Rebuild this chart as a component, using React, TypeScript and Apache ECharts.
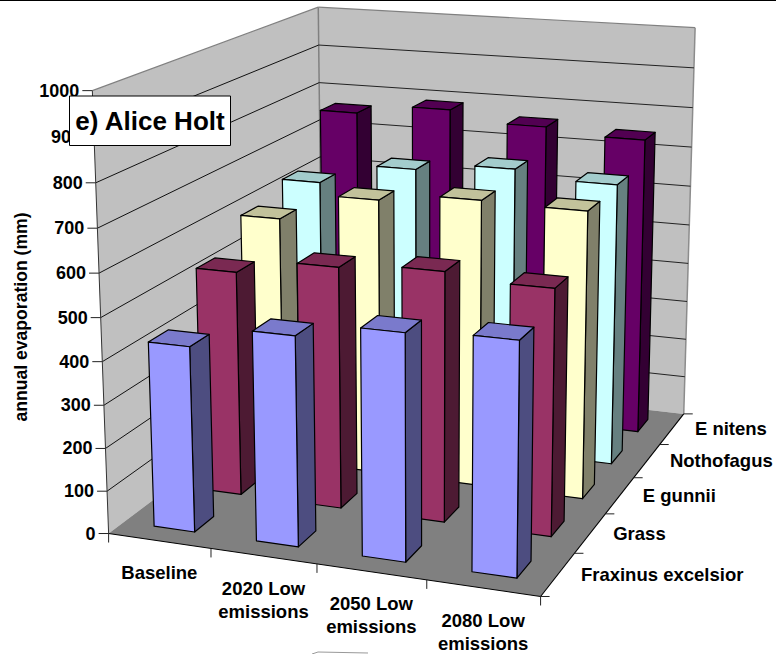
import React, { useEffect, useRef } from "react";
import * as echarts from "echarts";

const categories = ["Baseline", "2020 Low\nemissions", "2050 Low\nemissions", "2080 Low\nemissions"];
const seriesNames = ["Fraxinus excelsior", "Grass", "E gunnii", "Nothofagus", "E nitens"];
const valueTicks = [0, 100, 200, 300, 400, 500, 600, 700, 800, 900, 1000];

const fraxinus = [431, 482, 515, 525];
const grass = [535, 570, 584, 570];
const gunnii = [602, 668, 688, 684];
const nothofagus = [636, 688, 708, 690];
const nitens = [763, 788, 762, 747];
const rows = [fraxinus, grass, gunnii, nothofagus, nitens];

// front, side and top shades for each species
const palette = [
  ["#9999ff", "#4d4d80", "#7a7acc"],
  ["#993366", "#4d1a33", "#7a2952"],
  ["#ffffcc", "#80806a", "#c2c29b"],
  ["#ccffff", "#668080", "#a3cccc"],
  ["#660066", "#330033", "#520052"],
];

const MAX_VALUE = 1000;
const BAR_SHARE = 0.4;
const FONT = '"Liberation Sans", Arial, sans-serif';

// Box corners (u along categories, v along species, w up) and where the camera puts them.
const cameraAnchors: number[][] = [
  [0, 0, 0, 109, 534],
  [1, 0, 0, 540, 596],
  [1, 1, 0, 684, 414],
  [0, 1, 0, 322, 372],
  [0, 0, 1, 92, 90],
  [0, 1, 1, 318.5, 7.5],
  [1, 1, 1, 695, 27.7],
  [0, 0, 0.5, 101, 318],
  [0.5, 0, 0, 317, 564],
  [1, 0.6, 0, 634, 478],
];

function solve(a: number[][], b: number[]): number[] {
  const n = b.length;
  const m = a.map((row, i) => [...row, b[i]]);
  for (let c = 0; c < n; c++) {
    let p = c;
    for (let r = c + 1; r < n; r++) if (Math.abs(m[r][c]) > Math.abs(m[p][c])) p = r;
    [m[c], m[p]] = [m[p], m[c]];
    for (let r = 0; r < n; r++) {
      if (r === c) continue;
      const f = m[r][c] / m[c][c];
      for (let k = c; k <= n; k++) m[r][k] -= f * m[c][k];
    }
  }
  return m.map((row, i) => row[n] / row[i]);
}

// Least-squares fit of a 3x4 perspective camera with its last entry fixed at 1.
function fitCamera(anchors: number[][]): number[] {
  const rowsA: number[][] = [];
  const rowsB: number[] = [];
  for (const [u, v, w, sx, sy] of anchors) {
    rowsA.push([u, v, w, 1, 0, 0, 0, 0, -sx * u, -sx * v, -sx * w]);
    rowsB.push(sx);
    rowsA.push([0, 0, 0, 0, u, v, w, 1, -sy * u, -sy * v, -sy * w]);
    rowsB.push(sy);
  }
  const size = 11;
  const ata = Array.from({ length: size }, () => new Array(size).fill(0));
  const atb = new Array(size).fill(0);
  rowsA.forEach((row, r) => {
    for (let i = 0; i < size; i++) {
      atb[i] += row[i] * rowsB[r];
      for (let j = 0; j < size; j++) ata[i][j] += row[i] * row[j];
    }
  });
  return solve(ata, atb);
}

const cam = fitCamera(cameraAnchors);

function project(u: number, v: number, w: number): number[] {
  const d = cam[8] * u + cam[9] * v + cam[10] * w + 1;
  return [
    (cam[0] * u + cam[1] * v + cam[2] * w + cam[3]) / d,
    (cam[4] * u + cam[5] * v + cam[6] * w + cam[7]) / d,
  ];
}

const poly = (points: number[][], fill: string, stroke = "none", lineWidth = 0) => ({
  type: "polygon",
  shape: { points },
  style: { fill, stroke, lineWidth, lineJoin: "round" },
});

const seg = (a: number[], b: number[], stroke: string, lineWidth = 1) => ({
  type: "line",
  shape: { x1: a[0], y1: a[1], x2: b[0], y2: b[1] },
  style: { stroke, lineWidth },
});

const label = (text: string, x: number, y: number, align: string, size = 18.5) => ({
  type: "text",
  style: {
    text,
    x,
    y,
    align,
    textAlign: align,
    verticalAlign: "middle",
    textVerticalAlign: "middle",
    fill: "#000",
    font: `bold ${size}px ${FONT}`,
    lineHeight: 23,
  },
});

function renderFrame() {
  const A = project(0, 0, 0);
  const B = project(1, 0, 0);
  const C = project(1, 1, 0);
  const D = project(0, 1, 0);
  const E = project(0, 0, 1);
  const F = project(0, 1, 1);
  const G = project(1, 1, 1);
  const children: any[] = [
    poly([A, E, F, D], "#c0c0c0"),
    poly([D, F, G, C], "#c0c0c0"),
    poly([A, B, C, D], "#808080"),
    seg(E, F, "#808080", 1.2),
    seg(F, G, "#808080", 1.2),
    seg(G, C, "#8c8c8c", 1.5),
    seg(F, D, "#808080", 1.5),
  ];
  valueTicks.forEach((t) => {
    const w = t / MAX_VALUE;
    const a = project(0, 0, w);
    const b = project(0, 1, w);
    const c = project(1, 1, w);
    if (t > 0 && t < MAX_VALUE) {
      children.push(seg(a, b, "#111", 1), seg(b, c, "#222", 1));
    }
    children.push(seg([a[0] - 10, a[1]], a, "#222", 1));
    children.push(label(String(t), a[0] - 13, a[1], "right", 18));
  });
  children.push(seg(E, A, "#333", 1), seg(A, B, "#000", 1.1), seg(B, C, "#000", 1.1));
  categories.forEach((name, i) => {
    const tick = project((i + 1) / categories.length, 0, 0);
    children.push(seg(tick, [tick[0], tick[1] + 9], "#222", 1));
    const mid = project((i + 0.5) / categories.length, 0, 0);
    children.push(label(name, mid[0], mid[1] + (name.includes("\n") ? 43.5 : 32), "center"));
  });
  children.push(seg(A, [A[0], A[1] + 9], "#222", 1));
  seriesNames.forEach((name, r) => {
    const tick = project(1, r / seriesNames.length, 0);
    children.push(seg(tick, [tick[0] + 9, tick[1]], "#222", 1));
    const mid = project(1, (r + 0.5) / seriesNames.length, 0);
    children.push(label(name, mid[0] + 23, mid[1], "left"));
  });
  const end = project(1, 1, 0);
  children.push(seg(end, [end[0] + 9, end[1]], "#222", 1));
  return { type: "group", children };
}

function renderBar(_: unknown, api: any) {
  const cat = api.value(0);
  const row = api.value(1);
  const w = api.value(2) / MAX_VALUE;
  const side = (1 - BAR_SHARE) / 2;
  const u0 = (cat + side) / categories.length;
  const u1 = (cat + 1 - side) / categories.length;
  const v0 = (row + side) / seriesNames.length;
  const v1 = (row + 1 - side) / seriesNames.length;
  const [front, right, top] = palette[row];
  return {
    type: "group",
    children: [
      poly([project(u1, v0, 0), project(u1, v1, 0), project(u1, v1, w), project(u1, v0, w)], right, "#000", 1.2),
      poly([project(u0, v0, w), project(u1, v0, w), project(u1, v1, w), project(u0, v1, w)], top, "#000", 1.2),
      poly([project(u0, v0, 0), project(u1, v0, 0), project(u1, v0, w), project(u0, v0, w)], front, "#000", 1.2),
    ],
  };
}

export default function App() {
  const ref = useRef<HTMLDivElement>(null);
  useEffect(() => {
    document.body.style.margin = "0";
    const chart = echarts.init(ref.current!, null, { renderer: "svg" });
    const barSeries = rows
      .map((values, r) => ({
        type: "custom",
        name: seriesNames[r],
        coordinateSystem: "none",
        renderItem: renderBar,
        data: values.map((v, c) => [c, r, v]),
        encode: { x: 0, y: 2 },
      }))
      .reverse();
    chart.setOption({
      animation: false,
      backgroundColor: "#fff",
      series: [
        { type: "custom", coordinateSystem: "none", renderItem: renderFrame, data: [[0]], silent: true },
        ...barSeries,
      ],
      graphic: [
        { type: "line", z: 50, shape: { x1: 0, y1: 0.5, x2: 776, y2: 0.5 }, style: { stroke: "#000", lineWidth: 1 } },
        {
          type: "polyline",
          z: 50,
          shape: { points: [[312, 654], [318, 652], [368, 653]] },
          style: { stroke: "#999", lineWidth: 1, fill: "none" },
        },
        {
          type: "text",
          z: 50,
          rotation: Math.PI / 2,
          x: 21,
          y: 317,
          style: {
            text: "annual evaporation (mm)",
            align: "center",
            verticalAlign: "middle",
            textAlign: "center",
            textVerticalAlign: "middle",
            fill: "#000",
            font: `bold 17.6px ${FONT}`,
          },
        },
        {
          type: "rect",
          z: 60,
          shape: { x: 69.5, y: 96, width: 161, height: 49.5 },
          style: { fill: "#fff", stroke: "#000", lineWidth: 1 },
        },
        {
          type: "text",
          z: 61,
          x: 150,
          y: 121,
          style: {
            text: "e) Alice Holt",
            align: "center",
            verticalAlign: "middle",
            textAlign: "center",
            textVerticalAlign: "middle",
            fill: "#000",
            font: `bold 26px ${FONT}`,
          },
        },
      ],
    });
    return () => chart.dispose();
  }, []);
  return <div ref={ref} style={{ width: 776, height: 654 }} />;
}
